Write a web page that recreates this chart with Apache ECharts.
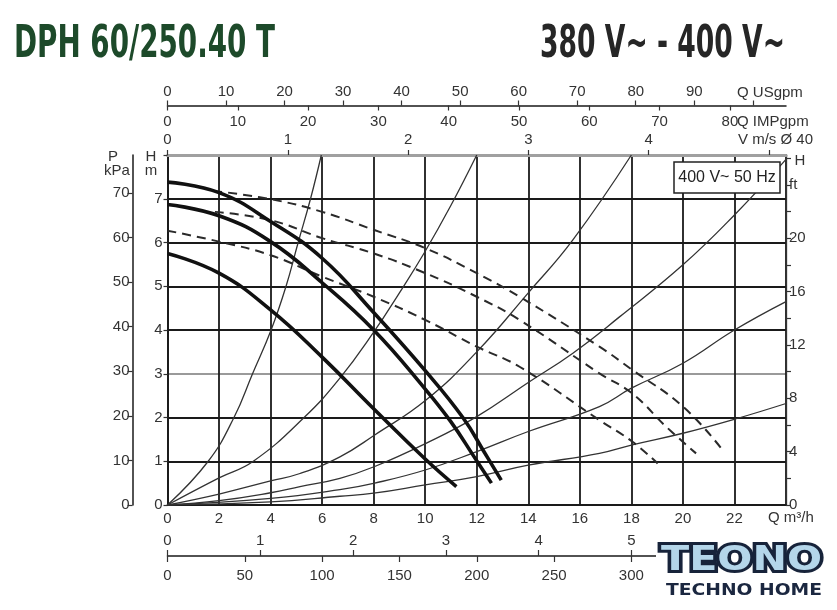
<!DOCTYPE html>
<html><head><meta charset="utf-8">
<script src="https://cdn.jsdelivr.net/npm/echarts@6/dist/echarts.min.js"></script>
<style>html,body{margin:0;padding:0;background:#fff}#chart{width:837px;height:610px}</style>
</head><body><div id="chart"></div>
<script>
// ---------- data: Q in m³/h, H in m ----------
const pumpCurveHigh = [[0,7.38],[2,7.14],[4,6.48],[6,5.64],[8,4.4],[10,3.07],[11.46,2.0],[12.3,1.2],[12.95,0.57]];
const pumpCurveMid  = [[0,6.87],[2,6.61],[4,6.02],[6,5.08],[8,4.0],[10,2.65],[11,1.9],[11.9,1.1],[12.57,0.5]];
const pumpCurveLow  = [[0,5.75],[2,5.3],[4,4.46],[6,3.38],[8,2.2],[10,1.05],[11.21,0.42]];
const dashedHigh = [[1.78,7.18],[4,6.99],[6,6.70],[8,6.29],[10,5.87],[12,5.3],[13.66,4.76],[16.76,3.62],[18.03,3.09],[20,2.25],[21.48,1.30]];
const dashedMid  = [[1.84,6.70],[4,6.51],[6,6.10],[8,5.75],[10,5.30],[12,4.76],[13.66,4.23],[16.76,3.01],[18.03,2.55],[19.35,1.79],[20.51,1.18]];
const dashedLow  = [[0,6.27],[2,6.02],[4,5.71],[6,5.22],[8,4.76],[10,4.23],[12,3.62],[13.66,3.16],[16.76,1.94],[18.03,1.45],[19.02,0.95]];
const system1 = [[0,0],[1.58,1.0],[2.58,2.0],[3.3,3.0],[4.02,4.0],[4.6,5.0],[5.07,6.0],[5.55,7.0],[5.97,8.0]];
const system2 = [[0,0],[2,0.62],[3.33,1.0],[5.3,2.0],[6.69,2.9],[8,3.95],[9,4.85],[10,5.8],[11,6.85],[12,8.0]];
const system3 = [[0,0],[2,0.25],[4,0.55],[5.14,0.72],[6.69,1.1],[8.04,1.6],[10.03,2.4],[12,3.5],[14,4.85],[15.73,6.06],[18,8.0]];
const system4 = [[0,0],[2,0.1],[4,0.28],[5.14,0.42],[6.69,0.61],[8.04,0.88],[10.03,1.41],[12,2.02],[14,2.8],[15.73,3.47],[17.54,4.3],[20,5.49],[22,6.63],[24,7.9]];
const system5 = [[0,0],[4,0.15],[6.69,0.35],[8.04,0.5],[10,0.8],[12,1.22],[14,1.68],[16.76,2.25],[18,2.67],[20,3.24],[22,4.0],[24,4.65]];
const system6 = [[0,0],[4,0.07],[6.69,0.2],[8,0.27],[10,0.46],[12,0.65],[14,0.91],[16.76,1.18],[18,1.37],[20,1.64],[22,1.96],[24,2.32]];

// axis ranges and unit conversions
const Q_MAX = 24, H_MAX = 8;
const FT_PER_M = 3.2808, KPA_PER_M = 9.81;
const USGPM_PER_M3H = 4.403, IMPGPM_PER_M3H = 3.666, MS_PER_M3H = 1/4.668, LS_PER_M3H = 1/3.6;

const titleText = 'DPH 60/250.40 T';
const voltageText = '380 V~ - 400 V~';
const boxText = '400 V~ 50 Hz';

// ---------- helpers ----------
const mctx = document.createElement('canvas').getContext('2d');
function fit(text, font, width){ mctx.font = font; return width / mctx.measureText(text).width; }

const LBL = {color:'#333', fontSize:15, fontFamily:'"Liberation Sans", Arial, sans-serif'};
const BLACK = '#1a1a1a';
const TICK = {lineStyle:{color:'#333', width:1.2}};

const titleFont = 'bold 44px "Liberation Sans Narrow", "DejaVu Sans Condensed", "Liberation Sans", sans-serif';
const logoFont = 'bold 34px "DejaVu Sans", "Liberation Sans", sans-serif';
const logoSubFont = 'bold 16px "DejaVu Sans", "Liberation Sans", sans-serif';
const nameFont = '15px "Liberation Sans", Arial, sans-serif';

function txt(text, x, y, opt){
  opt = opt || {};
  const st = {text:text, font:opt.font||nameFont, fill:opt.fill||'#333',
      textAlign:opt.align||'left', textVerticalAlign:'middle'};
  if (opt.stroke) { st.stroke = opt.stroke; st.lineWidth = opt.lineWidth; st.lineJoin = 'round'; }
  return {type:'text', x:x, y:y, z:opt.z||50, scaleX:opt.scaleX||1, style:st};
}

const chart = echarts.init(document.getElementById('chart'), null, {renderer:'canvas'});

function line(data, kind){
  const s = {type:'line', data:data, smooth:0.45, symbol:'none', silent:true, xAxisIndex:0, yAxisIndex:0};
  if (kind==='thick') { s.lineStyle = {color:'#111', width:3.6}; s.z = 6; }
  else if (kind==='dash') { s.lineStyle = {color:'#2a2a2a', width:2, type:[9,6]}; s.z = 4; }
  else { s.lineStyle = {color:'#333', width:1.3}; s.z = 3; }
  return s;
}

const hGridColors = [BLACK,BLACK,BLACK,'#9a9a9a',BLACK,BLACK,BLACK,BLACK,'#9a9a9a'];

const logoScale = fit('TEONO', logoFont, 161);
const option = {
  animation:false,
  backgroundColor:'#fff',
  grid:{left:167.5, right:51, top:155, bottom:105, containLabel:false, outerBoundsMode:'none'},
  xAxis:[
    {type:'value', min:0, max:Q_MAX, interval:2, position:'bottom',
     axisLine:{show:true, onZero:false, lineStyle:{color:BLACK, width:1.8}}, axisTick:{show:false},
     axisLabel:Object.assign({margin:6, formatter:v=> v>=Q_MAX?'':String(v)}, LBL),
     splitLine:{show:true, lineStyle:{color:BLACK, width:1.8}}},
    {type:'value', min:0, max:Q_MAX*MS_PER_M3H, interval:1, position:'top',
     axisLine:{show:true, onZero:false, lineStyle:{color:'#a0a0a0', width:3}}, axisTick:Object.assign({show:true, length:5}, TICK),
     axisLabel:Object.assign({margin:8, showMaxLabel:false, formatter:v=> v>4.5?'':String(v)}, LBL),
     splitLine:{show:false}},
    {type:'value', min:0, max:Q_MAX*USGPM_PER_M3H, interval:10, position:'top', offset:49.5,
     axisLine:{show:true, onZero:false, lineStyle:{color:BLACK, width:1.5}}, axisTick:Object.assign({show:true, length:5}, TICK),
     axisLabel:Object.assign({margin:6, showMaxLabel:false, formatter:v=> v>95?'':String(v)}, LBL),
     splitLine:{show:false}},
    {type:'value', min:0, max:Q_MAX*IMPGPM_PER_M3H, interval:10, position:'top', offset:49.5,
     axisLine:{show:false, onZero:false}, axisTick:Object.assign({show:true, inside:true, length:5}, TICK),
     axisLabel:Object.assign({inside:true, margin:9, showMaxLabel:false, formatter:v=> v>85?'':String(v)}, LBL),
     splitLine:{show:false}},
    {type:'value', min:0, max:Q_MAX*LS_PER_M3H, interval:1, position:'bottom', offset:51,
     axisLine:{show:true, onZero:false, lineStyle:{color:BLACK, width:1.5}}, axisTick:Object.assign({show:true, inside:true, length:6}, TICK),
     axisLabel:Object.assign({inside:true, margin:8, showMaxLabel:false, formatter:v=> v>5.5?'':String(v)}, LBL),
     splitLine:{show:false}},
    {type:'value', min:0, max:Q_MAX*LS_PER_M3H*60, interval:50, position:'bottom', offset:51,
     axisLine:{show:false, onZero:false}, axisTick:Object.assign({show:true, length:6}, TICK),
     axisLabel:Object.assign({margin:12, formatter:v=> v>300?'':String(v)}, LBL),
     splitLine:{show:false}}
  ],
  yAxis:[
    {type:'value', min:0, max:H_MAX, interval:1, position:'left',
     axisLine:{show:true, onZero:false, lineStyle:{color:BLACK, width:1.8}}, axisTick:Object.assign({show:true, length:4}, TICK),
     axisLabel:Object.assign({margin:5, formatter:v=> v>=H_MAX?'':String(v)}, LBL),
     splitLine:{show:true, lineStyle:{color:hGridColors, width:1.8}}},
    {type:'value', min:0, max:H_MAX*FT_PER_M, interval:2, position:'right',
     axisLine:{show:true, onZero:false, lineStyle:{color:'#333', width:1.3}}, axisTick:Object.assign({show:true, length:5}, TICK),
     axisLabel:Object.assign({margin:3, showMaxLabel:false, formatter:v=> v===24?'ft':(v%4===0?String(v):'')}, LBL),
     splitLine:{show:false}},
    {type:'value', min:0, max:H_MAX*KPA_PER_M, interval:10, position:'left', offset:35,
     axisLine:{show:true, onZero:false, lineStyle:{color:BLACK, width:1.5}}, axisTick:Object.assign({show:true, length:5}, TICK),
     axisLabel:Object.assign({margin:3, showMaxLabel:false, formatter:v=> v>75?'':String(v)}, LBL),
     splitLine:{show:false}}
  ],
  series:[
    line(system1,'thin'), line(system2,'thin'), line(system3,'thin'),
    line(system4,'thin'), line(system5,'thin'), line(system6,'thin'),
    line(dashedHigh,'dash'), line(dashedMid,'dash'), line(dashedLow,'dash'),
    line(pumpCurveHigh,'thick'), line(pumpCurveMid,'thick'), line(pumpCurveLow,'thick')
  ],
  graphic:[
    // titles
    txt(titleText, 14, 46, {font:titleFont, fill:'#1d4a2a', scaleX:fit(titleText, titleFont, 261)}),
    txt(voltageText, 540, 46, {font:titleFont, fill:'#262626', scaleX:fit(voltageText, titleFont, 245)}),
    // axis names
    txt('P', 113, 157, {align:'center'}),
    txt('kPa', 117, 171, {align:'center'}),
    txt('H', 151, 157, {align:'center'}),
    txt('m', 151, 171, {align:'center'}),
    txt('H', 800, 161, {align:'center'}),
    txt('Q USgpm', 737, 93),
    txt('Q IMPgpm', 737, 122),
    txt('V m/s Ø 40', 738, 140),
    txt('Q m³/h', 768, 518),
    // legend box
    {type:'rect', z:60, shape:{x:674, y:162, width:106, height:31}, style:{fill:'#fff', stroke:'#222', lineWidth:1.5}},
    txt(boxText, 727, 178, {align:'center', z:61, font:'16px "Liberation Sans", Arial, sans-serif', fill:'#222'}),
    // logo
    {type:'rect', z:70, shape:{x:656, y:540, width:181, height:70}, style:{fill:'#fff'}},
    txt('TEONO', 661, 561, {z:71, font:logoFont, scaleX:logoScale, fill:'#17233a', stroke:'#17233a', lineWidth:6}),
    txt('TEONO', 661, 561, {z:72, font:logoFont, scaleX:logoScale, fill:'#b4d6ea'}),
    txt('TECHNO HOME', 666, 591, {z:71, font:logoSubFont, fill:'#1b2740', scaleX:fit('TECHNO HOME', logoSubFont, 156)})
  ]
};
chart.setOption(option);
</script>
</body></html>
